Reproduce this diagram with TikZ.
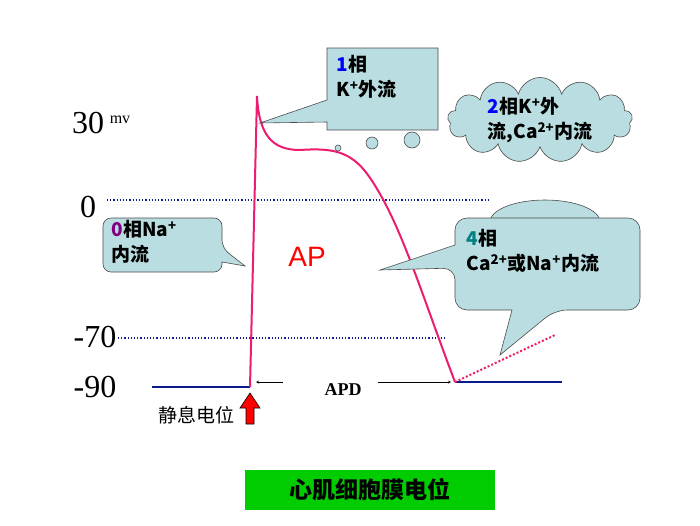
\documentclass[tikz,border=0pt]{standalone}
\usepackage{fontspec}
\setmainfont{Liberation Serif}
\setsansfont{Liberation Sans}
\newfontfamily\cjk{Noto Sans CJK SC}
\usetikzlibrary{shapes.symbols}
\definecolor{bubble}{HTML}{B9DDE0}
\definecolor{curve}{HTML}{EC1C6E}
\definecolor{rest}{HTML}{0A1A8C}
\begin{document}
\begin{tikzpicture}[x=1pt,y=-1pt,
    axislabel/.style={font=\fontsize{32}{34}\selectfont},
    tip/.style={fill=bubble,draw=black!70,line width=0.6pt},
    tiptext/.style={font=\fontsize{19}{25}\selectfont\sffamily\bfseries\cjk,align=left,anchor=north west}]
    \useasboundingbox (0,0) rectangle (700,525);

    % axis labels
    \node [axislabel] (l30) at (88,123) {30};
    \node [font=\fontsize{16}{18}\selectfont] (lmv) at (120,120) {mv};
    \node [axislabel] (l0) at (88,207) {0};
    \node [axislabel] (l70) at (95,337) {-70};
    \node [axislabel] (l90) at (95,387) {-90};

    % levels
    \draw [rest,dotted,line width=1.2pt] (107,200) -- (488,200);
    \draw [rest,dotted,line width=1.2pt] (118,338) -- (445,338);
    \draw [rest,line width=2.5pt] (152,387) -- (250,387);
    \draw [rest,line width=2.5pt] (455,382) -- (562,382);

    % action potential
    \draw [curve,line width=2pt] (250,387) -- (257,96)
        .. controls (259,135) and (272,150) .. (300,150)
        .. controls (330,148) and (350,150) .. (368,175)
        .. controls (400,220) and (420,290) .. (455,382);
    \draw [curve,dotted,line width=2pt] (455,382) -- (555,335);
    \node [text=red,font=\fontsize{28}{30}\selectfont\sffamily] (ap) at (307,257) {AP};

    % phase 1
    \draw [tip] (327,48) -- (438,48) -- (438,130) -- (327,130) -- (327,122)
        -- (260,123) -- (327,100) -- cycle;
    \node [tiptext] (p1) at (333,52) {{\color{blue}1}相\\K\textsuperscript{+}外流};
    \draw [tip] (338,148) circle (3);
    \draw [tip] (372,143) circle (6);
    \draw [tip] (412,140) circle (8);

    % phase 2
    \node [cloud,cloud puffs=13,aspect=2.4,fill=bubble,draw=black!70,line width=0.6pt,
        minimum width=185,minimum height=85] (p2c) at (540,120) {};
    \node [tiptext,anchor=center] (p2) at (540,120) {{\color{blue}2}相K\textsuperscript{+}外\\流,Ca\textsuperscript{2+}内流};

    % phase 0
    \draw [tip,rounded corners=8] (103,218) -- (222,218) -- (222,248) [sharp corners] -- (245,266)
        -- (222,262) [rounded corners=8] -- (222,272) -- (103,272) -- cycle;
    \node [tiptext] (p0) at (108,217) {{\color{violet}0}相Na\textsuperscript{+}\\内流};

    % phase 4
    \draw [tip] (490,222) arc (180:360:55 and 22);
    \draw [tip,rounded corners=12] (455,218) -- (640,218) -- (640,310) -- (555,310)
        [sharp corners] -- (500,355) -- (512,310) [rounded corners=12] -- (455,310)
        -- (455,268) [sharp corners] -- (380,270) -- (455,245) [rounded corners=12] -- cycle;
    \node [tiptext] (p4) at (463,226) {{\color{teal}4}相\\Ca\textsuperscript{2+}或Na\textsuperscript{+}内流};

    % APD
    \node [font=\fontsize{18}{20}\selectfont\bfseries] (apd) at (343,390) {APD};
    \coordinate (apdl) at (256,382);
    \coordinate (apdr) at (451,382);
    \coordinate (apdla) at (283,382);
    \coordinate (apdra) at (378,382);
    \draw [->,>=stealth] (apdla) -- (apdl);
    \draw [->,>=stealth] (apdra) -- (apdr);

    % resting potential
    \node [font=\fontsize{19}{21}\selectfont\cjk] (rest) at (196,415) {静息电位};
    \draw [fill=red,draw=black,line width=0.6pt] (246,424) -- (246,408) -- (240,408) -- (250,393)
        -- (260,408) -- (254,408) -- (254,424) -- cycle;

    % title
    \node [fill=green!80!black,minimum width=250,minimum height=40,
        font=\fontsize{23}{25}\selectfont\bfseries\cjk] (title) at (370,490) {心肌细胞膜电位};
\end{tikzpicture}
\end{document}
